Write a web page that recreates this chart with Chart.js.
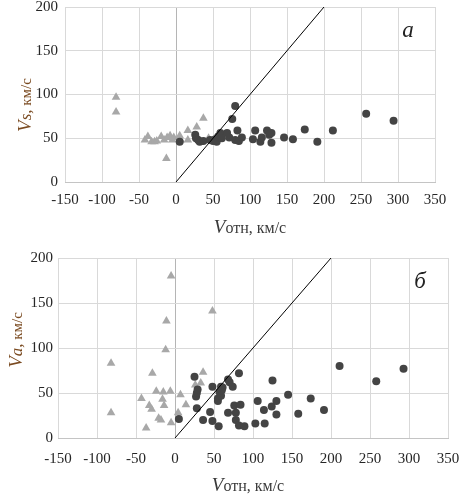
<!DOCTYPE html>
<html>
<head>
<meta charset="utf-8">
<script src="https://cdn.jsdelivr.net/npm/chart.js@4"></script>
<style>
  html, body { margin: 0; padding: 0; background: #fff; }
  .box { position: absolute; left: 0; width: 461px; height: 248px; }
</style>
</head>
<body>
<div class="box" style="top:0"><canvas id="chart-vs" width="461" height="248"></canvas></div>
<div class="box" style="top:248px"><canvas id="chart-va" width="461" height="248"></canvas></div>
<script>
// оси
const xMin = -150, xMax = 350, xStep = 50;
const yMin = 0, yMax = 200, yStep = 50;
const diagLine = [[0, 0], [200, 200]];

// (а) Vs от Vотн
const vsTriangles = [[-81,97],[-81,80],[-42,48],[-38,52],[-33,46],[-29,46],[-26,47],[-20,52],[-16,48],
  [-12,51],[-8,53],[-5,48],[-3,51],[-13,27],[5,53],[6,48],[16,59],[16,48],[28,63],[37,73],[44,50]];
const vsCircles = [[5,46],[26,54],[27,50],[30,48],[32,46],[37,47],[46,48],[50,47],[53,49],[55,46],
  [57,52],[60,56],[62,50],[69,56],[72,51],[76,72],[80,87],[80,48],[83,59],[85,47],[89,51],[104,49],
  [107,59],[114,46],[116,51],[123,59],[126,54],[129,56],[129,45],[146,51],[158,49],[174,60],[191,46],
  [212,59],[257,78],[294,70]];

// (б) Va от Vотн
const vaTriangles = [[-82,83],[-82,28],[-43,44],[-37,11],[-33,36],[-30,32],[-29,72],[-24,52],[-21,22],
  [-18,20],[-16,43],[-15,51],[-14,36],[-12,98],[-11,130],[-6,52],[-5,180],[-5,17],[4,28],[7,48],
  [14,37],[26,59],[33,61],[36,73],[48,141]];
const vaCircles = [[5,21],[25,68],[27,46],[28,50],[29,54],[28,33],[36,20],[45,29],[48,19],[48,57],
  [55,44],[56,13],[55,41],[57,51],[59,57],[59,47],[60,53],[61,56],[68,28],[68,65],[70,62],[74,57],
  [76,36],[78,28],[78,20],[82,72],[82,14],[84,37],[89,13],[103,16],[106,41],[114,31],[115,16],
  [124,35],[125,64],[130,41],[130,26],[145,48],[158,27],[174,44],[191,31],[211,80],[258,63],[293,77]];

const serif = "'Liberation Serif', 'Times New Roman', serif";
const pts = arr => arr.map(p => ({ x: p[0], y: p[1] }));

// подписи осей со смешанными шрифтами
const axisTitles = {
  id: 'axisTitles',
  afterDraw(chart, args, opts) {
    const ctx = chart.ctx;
    const drawParts = (parts, cx, cy, rot, color) => {
      ctx.save();
      ctx.translate(cx, cy);
      ctx.rotate(rot);
      ctx.fillStyle = color;
      ctx.textBaseline = 'alphabetic';
      let total = 0;
      parts.forEach(p => { ctx.font = p[1]; total += ctx.measureText(p[0]).width; });
      let x = -total / 2;
      parts.forEach(p => {
        ctx.font = p[1];
        ctx.fillText(p[0], x, 6);
        x += ctx.measureText(p[0]).width;
      });
      ctx.restore();
    };
    drawParts(opts.xParts, opts.xPos[0], opts.xPos[1], 0, '#3a3a3a');
    drawParts(opts.yParts, opts.yPos[0], opts.yPos[1], -Math.PI / 2, '#7a4a20');
    ctx.save();
    ctx.font = 'italic 23px ' + serif;
    ctx.fillStyle = '#222';
    ctx.textAlign = 'center';
    ctx.textBaseline = 'middle';
    ctx.fillText(opts.tag, opts.tagPos[0], opts.tagPos[1]);
    ctx.restore();
  }
};

function makeChart(id, circles, triangles, o) {
  new Chart(document.getElementById(id), {
    type: 'scatter',
    data: {
      datasets: [
        { data: pts(diagLine), showLine: true, borderColor: '#000', borderWidth: 1,
          pointRadius: 0, pointHoverRadius: 0 },
        { data: pts(circles), pointStyle: 'circle', pointRadius: 4, borderWidth: 0,
          backgroundColor: '#444444' },
        { data: pts(triangles), pointStyle: 'triangle', pointRadius: 5, borderWidth: 0,
          backgroundColor: '#a8a8a8' }
      ]
    },
    options: {
      responsive: false,
      animation: false,
      layout: { padding: o.padding },
      plugins: {
        legend: { display: false },
        tooltip: { enabled: false },
        axisTitles: o.titles
      },
      scales: {
        x: {
          type: 'linear', min: xMin, max: xMax,
          ticks: { stepSize: xStep, color: '#262626', padding: o.xPad, font: { family: serif, size: 15 } },
          grid: { color: c => c.tick && c.tick.value === 0 ? '#b5b5b5' : '#d9d9d9', drawTicks: false },
          border: { display: true, color: '#c4c4c4' },
          afterFit: s => { s.height = o.xH; s.paddingLeft = 0; s.paddingRight = 0; }
        },
        y: {
          type: 'linear', min: yMin, max: yMax,
          ticks: { stepSize: yStep, color: '#262626', padding: o.yPad, font: { family: serif, size: 15 } },
          grid: { color: '#d9d9d9', drawTicks: false },
          border: { display: false },
          afterFit: s => { s.width = o.yW; s.paddingTop = 0; s.paddingBottom = 0; }
        }
      }
    },
    plugins: [axisTitles]
  });
}

makeChart('chart-vs', vsCircles, vsTriangles, {
  padding: { top: 7, right: 26, left: 0, bottom: 0 },
  xH: 66, yW: 65, xPad: 9, yPad: 7,
  titles: {
    xParts: [['V', 'italic 19px ' + serif], ['отн, км/с', '16px ' + serif]], xPos: [250, 227],
    yParts: [['V', 'italic 19px ' + serif], ['s,', 'italic 17px ' + serif], [' км/с', '15px ' + serif]], yPos: [25, 105],
    tag: 'а', tagPos: [408, 31]
  }
});

makeChart('chart-va', vaCircles, vaTriangles, {
  padding: { top: 10, right: 13, left: 0, bottom: 0 },
  xH: 58, yW: 58, xPad: 12, yPad: 5,
  titles: {
    xParts: [['V', 'italic 19px ' + serif], ['отн, км/с', '16px ' + serif]], xPos: [248, 237],
    yParts: [['V', 'italic 19px ' + serif], ['a,', 'italic 17px ' + serif], [' км/с', '15px ' + serif]], yPos: [16, 92],
    tag: 'б', tagPos: [420, 34]
  }
});
</script>
</body>
</html>
